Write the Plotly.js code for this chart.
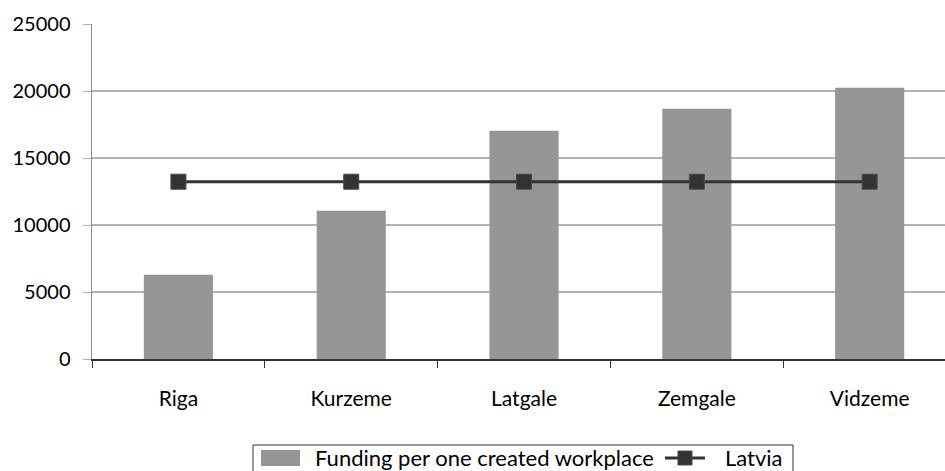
<!DOCTYPE html>
<html>
<head>
<meta charset="utf-8">
<script src="https://cdn.plot.ly/plotly-3.0.1.min.js"></script>
<style>html,body{margin:0;padding:0;background:#fff;}#chart{width:945px;height:471px;}</style>
</head>
<body>
<div id="chart"></div>
<script>
const regions = ["Riga", "Kurzeme", "Latgale", "Zemgale", "Vidzeme"];
const fundingPerWorkplace = [6290, 11070, 17040, 18680, 20250];
const latviaAverage = [13230, 13230, 13230, 13230, 13230];
const yTickValues = [0, 5000, 10000, 15000, 20000, 25000];
const seriesNames = ["Funding per one created workplace", "Latvia"];

const fontFamily = "Lato, 'Open Sans', sans-serif";
const barColor = "#969696";
const lineColor = "#333333";

// plot area in pixels: x 92..945, y 24..359
const L = 92, R = 945, T = 24, B = 359;
const px = x => (x - L) / (R - L);
const py = y => (B - y) / (B - T);

const traces = [
  {
    type: "bar",
    name: seriesNames[0],
    x: regions,
    y: fundingPerWorkplace,
    marker: {color: barColor},
    width: 0.4
  },
  {
    type: "scatter",
    mode: "lines+markers",
    name: seriesNames[1],
    x: regions,
    y: latviaAverage,
    line: {color: lineColor, width: 3},
    marker: {symbol: "square", size: 15, color: lineColor, line: {color: "#4a4a4a", width: 1}}
  }
];

// manual legend (to reproduce the wide bar swatch)
const shapes = [
  {type: "rect", xref: "paper", yref: "paper", x0: px(253), x1: px(793), y0: py(445), y1: py(474),
   line: {color: "#333333", width: 1}, fillcolor: "#ffffff", layer: "above"},
  {type: "rect", xref: "paper", yref: "paper", x0: px(261), x1: px(300), y0: py(450), y1: py(466),
   line: {width: 0}, fillcolor: barColor, layer: "above"},
  {type: "line", xref: "paper", yref: "paper", x0: px(665), x1: px(705), y0: py(458), y1: py(458),
   line: {color: lineColor, width: 3}, layer: "above"},
  {type: "rect", xref: "paper", yref: "paper", x0: px(678), x1: px(692), y0: py(451), y1: py(465),
   line: {color: "#4a4a4a", width: 1}, fillcolor: lineColor, layer: "above"}
];

const annotations = [
  {xref: "paper", yref: "paper", x: px(313), y: py(457), xanchor: "left", yanchor: "middle",
   text: seriesNames[0], showarrow: false, font: {family: fontFamily, size: 22, color: "#000000"}},
  {xref: "paper", yref: "paper", x: px(723), y: py(457), xanchor: "left", yanchor: "middle",
   text: seriesNames[1], showarrow: false, font: {family: fontFamily, size: 22, color: "#000000"}}
];

const layout = {
  width: 945,
  height: 471,
  margin: {l: L, r: 945 - R, t: T, b: 471 - B},
  paper_bgcolor: "#ffffff",
  plot_bgcolor: "#ffffff",
  font: {family: fontFamily, size: 20, color: "#000000"},
  showlegend: false,
  xaxis: {
    type: "category",
    range: [-0.5, 4.436],
    showline: true,
    linecolor: "#333333",
    linewidth: 1.5,
    ticks: "outside",
    tickson: "boundaries",
    ticklen: 7,
    tickcolor: "#333333",
    tickwidth: 1,
    showgrid: false,
    zeroline: false,
    ticklabelstandoff: 20,
    tickfont: {family: fontFamily, size: 21, color: "#000000"}
  },
  yaxis: {
    range: [0, 25000],
    tickvals: yTickValues,
    ticktext: yTickValues.map(String),
    showline: true,
    linecolor: "#8c8c8c",
    linewidth: 1.5,
    ticks: "outside",
    ticklen: 8,
    tickcolor: "#b0b0b0",
    showgrid: true,
    gridcolor: "#b3b3b3",
    gridwidth: 1.5,
    zeroline: false,
    ticklabelstandoff: 8,
    tickfont: {family: fontFamily, size: 20, color: "#000000"}
  },
  shapes: shapes,
  annotations: annotations
};

Plotly.newPlot("chart", traces, layout, {displayModeBar: false, staticPlot: true});
</script>
</body>
</html>
